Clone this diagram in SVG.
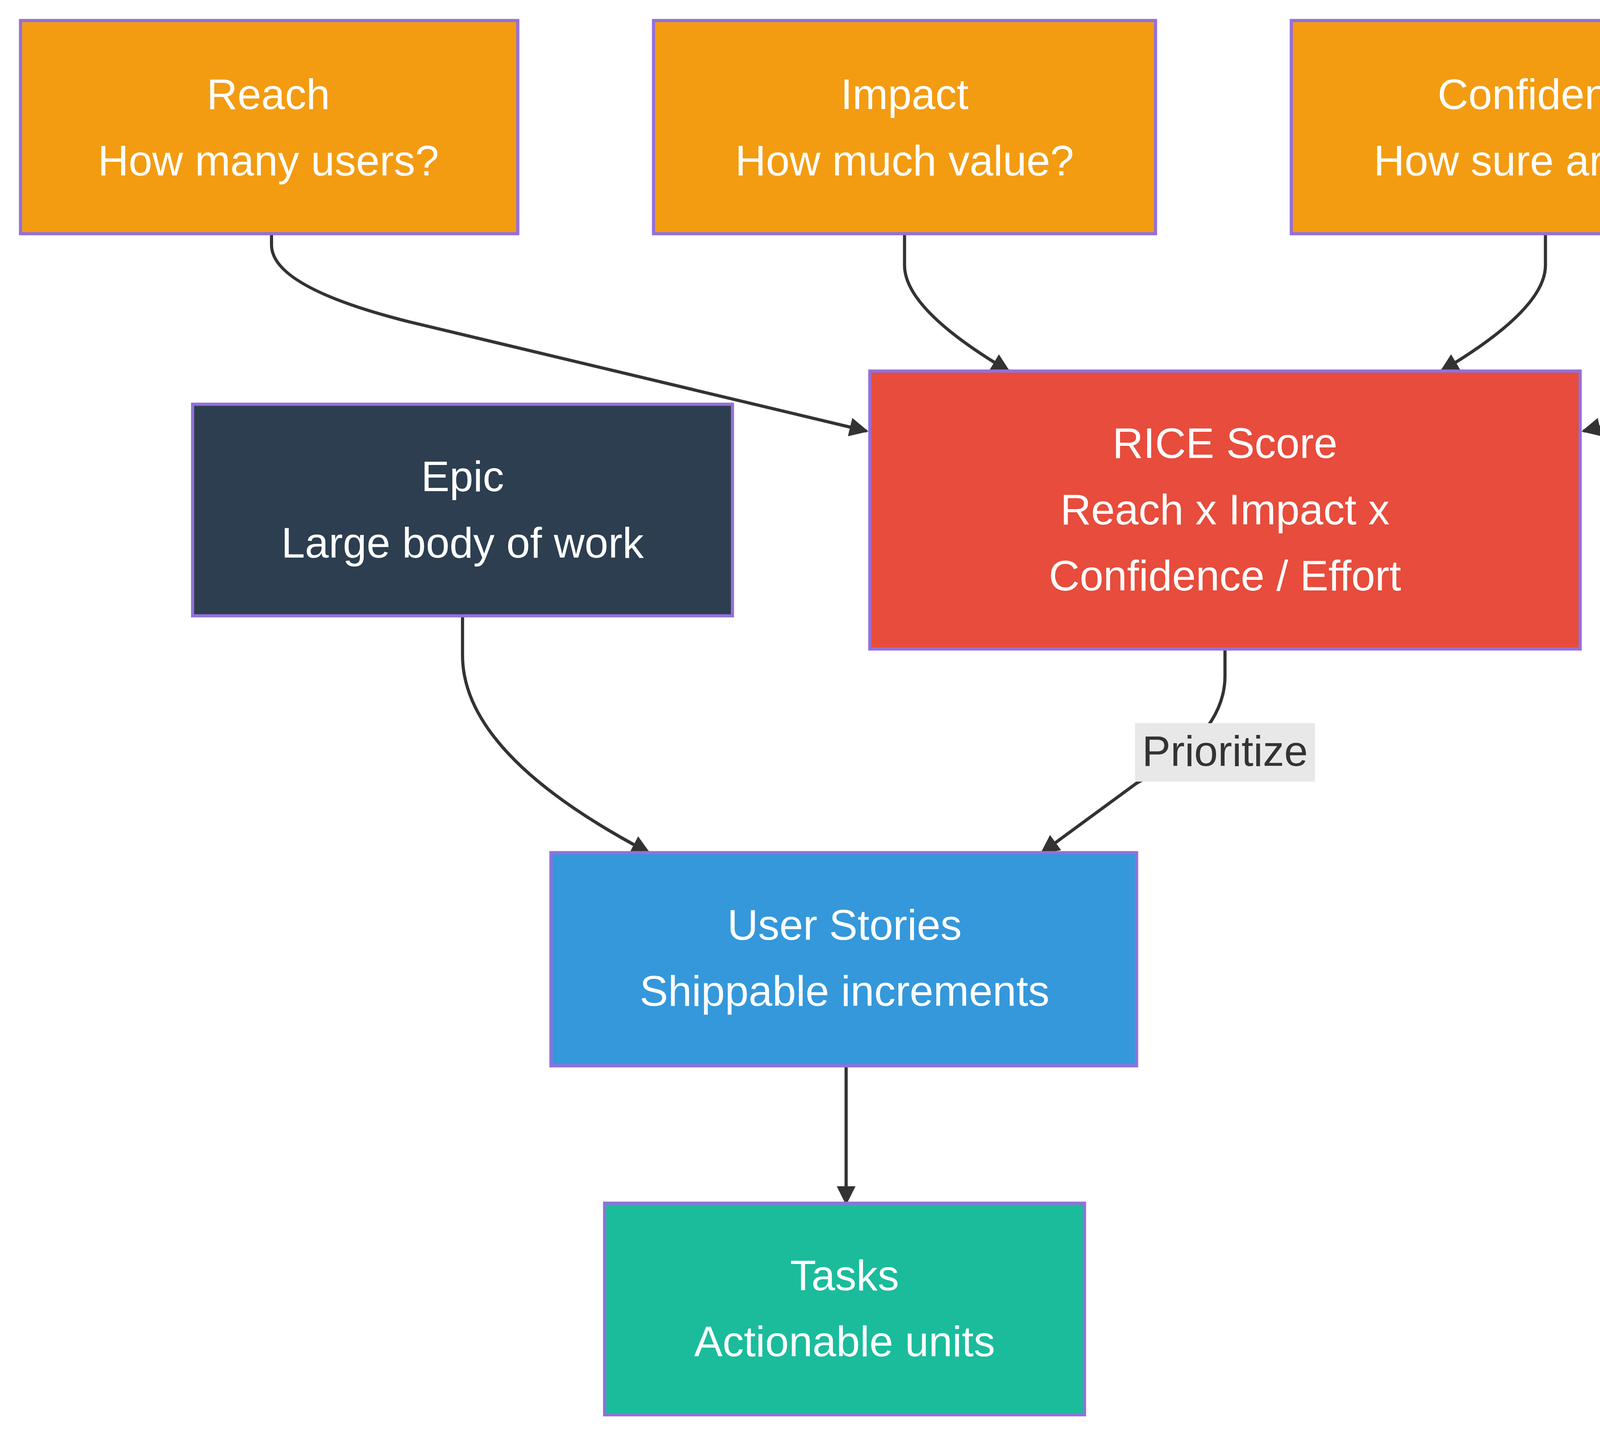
<svg xmlns="http://www.w3.org/2000/svg" width="6272" height="3688" viewBox="0 0 6272 3688">
<style>
.n{stroke:#9370DB;stroke-width:2}
.t{font-family:"Liberation Sans",Arial,sans-serif;font-size:27px;fill:#fff;text-anchor:middle}
.e{fill:none;stroke:#333;stroke-width:2}
</style>
<defs><marker id="b" viewBox="0 0 10 10" refX="9" refY="5" markerWidth="12" markerHeight="12" orient="auto" markerUnits="userSpaceOnUse"><path d="M0,0L10,5L0,10z" fill="#333"/></marker></defs>
<rect width="6272" height="3688" fill="#fff"/>
<g transform="scale(4.0412)">
<g id="edges">
<path class="e" marker-end="url(#b)" d="M172,148V155Q172,182 260,204L549,273"/>
<path class="e" marker-end="url(#b)" d="M573,148V168Q573,196 639,235"/>
<path class="e" marker-end="url(#b)" d="M979,148V168Q979,196 913,235"/>
<path class="e" marker-end="url(#b)" d="M1382,148V155Q1382,182 1294,204L1003,273"/>
<path class="e" marker-end="url(#b)" d="M293,390V415Q293,478 411,540"/>
<path class="e" marker-end="url(#b)" d="M776,411V428Q776,466 720,496L660,540"/>
<path class="e" marker-end="url(#b)" d="M536,675V762"/>
<rect x="719" y="458" width="114" height="37" fill="#e8e8e8"/>
<text x="776" y="485" style="font-family:'Liberation Sans',Arial,sans-serif;font-size:27px;fill:#333;text-anchor:middle">Prioritize</text>
</g>
<g id="reach"><rect class="n" x="13" y="13" width="315" height="135" fill="#f39c12"/><text class="t" x="170" y="69">Reach</text><text class="t" x="170" y="111">How many users?</text></g>
<g id="impact"><rect class="n" x="414" y="13" width="318" height="135" fill="#f39c12"/><text class="t" x="573" y="69">Impact</text><text class="t" x="573" y="111">How much value?</text></g>
<g id="confidence"><rect class="n" x="818" y="13" width="322" height="135" fill="#f39c12"/><text class="t" x="979" y="69">Confidence</text><text class="t" x="979" y="111">How sure are we?</text></g>
<g id="effort"><rect class="n" x="1226" y="13" width="312" height="135" fill="#f39c12"/><text class="t" x="1382" y="69">Effort</text><text class="t" x="1382" y="111">How much work?</text></g>
<g id="rice"><rect class="n" x="551" y="235" width="450" height="176" fill="#e74c3c"/><text class="t" x="776" y="290">RICE Score</text><text class="t" x="776" y="332">Reach x Impact x</text><text class="t" x="776" y="374">Confidence / Effort</text></g>
<g id="epic"><rect class="n" x="122" y="256" width="342" height="134" fill="#2c3e50"/><text class="t" x="293" y="311">Epic</text><text class="t" x="293" y="353">Large body of work</text></g>
<g id="stories"><rect class="n" x="349" y="540" width="371" height="135" fill="#3498db"/><text class="t" x="535" y="595">User Stories</text><text class="t" x="535" y="637">Shippable increments</text></g>
<g id="tasks"><rect class="n" x="383" y="762" width="304" height="134" fill="#1abc9c"/><text class="t" x="535" y="817">Tasks</text><text class="t" x="535" y="859">Actionable units</text></g>
</g>
</svg>
